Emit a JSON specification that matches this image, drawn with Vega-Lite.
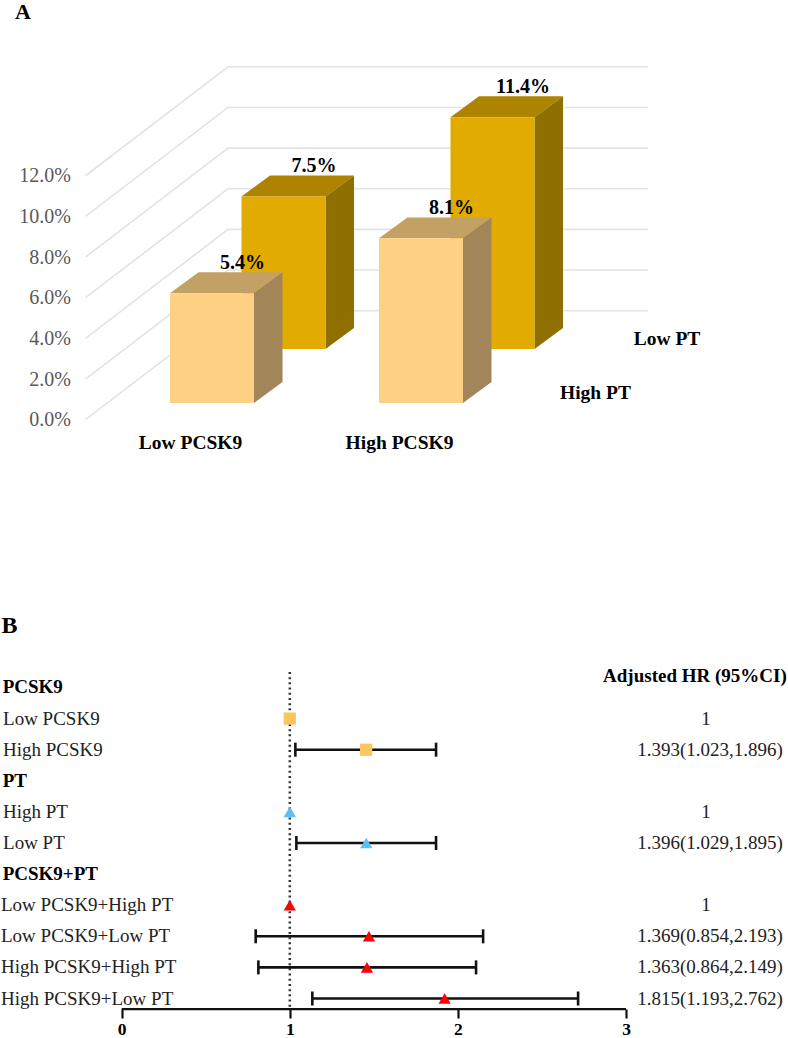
{
"$schema":"https://vega.github.io/schema/vega-lite/v6.json",
"padding":0,"spacing":0,"bounds":"flush",
"config":{"view":{"stroke":null},"text":{"font":"Liberation Serif"}},
"datasets":{
"bars":[
{"group":"Low PCSK9","pt":"Low PT","value":7.5},
{"group":"High PCSK9","pt":"Low PT","value":11.4},
{"group":"Low PCSK9","pt":"High PT","value":5.4},
{"group":"High PCSK9","pt":"High PT","value":8.1}],
"forest":[
{"row":0,"label":"PCSK9","kind":"header","factor":"PCSK9"},
{"row":1,"label":"Low PCSK9","kind":"single","factor":"PCSK9","est":1,"hr":"1"},
{"row":2,"label":"High PCSK9","kind":"single","factor":"PCSK9","lo":1.033,"est":1.454,"hi":1.87,"hr":"1.393(1.023,1.896)"},
{"row":3,"label":"PT","kind":"header","factor":"PT"},
{"row":4,"label":"High PT","kind":"single","factor":"PT","est":1,"hr":"1"},
{"row":5,"label":"Low PT","kind":"single","factor":"PT","lo":1.039,"est":1.455,"hi":1.87,"hr":"1.396(1.029,1.895)"},
{"row":6,"label":"PCSK9+PT","kind":"header","factor":"PCSK9+PT"},
{"row":7,"label":"Low PCSK9+High PT","kind":"combo","factor":"PCSK9+PT","est":1,"hr":"1"},
{"row":8,"label":"Low PCSK9+Low PT","kind":"combo","factor":"PCSK9+PT","lo":0.797,"est":1.471,"hi":2.15,"hr":"1.369(0.854,2.193)"},
{"row":9,"label":"High PCSK9+High PT","kind":"combo","factor":"PCSK9+PT","lo":0.813,"est":1.459,"hi":2.108,"hr":"1.363(0.864,2.149)"},
{"row":10,"label":"High PCSK9+Low PT","kind":"combo","factor":"PCSK9+PT","lo":1.134,"est":1.921,"hi":2.715,"hr":"1.815(1.193,2.762)"}]
},
"vconcat":[
{"width":788,"height":470,
"data":{"name":"bars"},
"transform":[
{"calculate":"(datum.group==='Low PCSK9'?170:379)+(datum.pt==='Low PT'?71.5:0)","as":"left"},
{"calculate":"datum.pt==='Low PT'?3.48:0.82","as":"floor"},
{"calculate":"datum.floor+datum.value","as":"top"}],
"resolve":{"axis":{"x":"independent","y":"independent"}},
"layer":[
{"data":{"values":[{"level":0},{"level":2},{"level":4},{"level":6},{"level":8},{"level":10},{"level":12}]},
"transform":[{"calculate":"[0,1,2]","as":"t"},{"flatten":["t"]},
{"calculate":"datum.t==0?85.5:(datum.t==1?228:648)","as":"xp"},
{"calculate":"datum.level+(datum.t==0?0:5.36)","as":"yp"}],
"mark":{"type":"line","color":"#E3E3E3","strokeWidth":1.6},
"encoding":{
"x":{"field":"xp","type":"quantitative","scale":{"domain":[0,788],"nice":false,"zero":false},"axis":null},
"y":{"field":"yp","type":"quantitative","scale":{"domain":[-2.523,20.595],"nice":false,"zero":false},
"axis":{"orient":"left","offset":-70.5,"values":[0,2,4,6,8,10,12],"labelExpr":"format(datum.value,'.1f')+'%'","domain":false,"ticks":false,"grid":false,"labelPadding":0,"title":null,"labelFont":"Liberation Serif","labelFontSize":20,"labelColor":"#595959","labelOverlap":false,"labelFlush":false}},
"detail":{"field":"level"},"order":{"field":"t"}}},

{"transform":[{"filter":"datum.pt==='Low PT'"},{"calculate":"[0,1,2,3]","as":"t"},{"flatten":["t"]},
{"calculate":"datum.t==0?datum.left:(datum.t==1?datum.left+28.5:(datum.t==2?datum.left+84:datum.left+112.5))","as":"xp"},
{"calculate":"datum.t==3?datum.top+1.03:datum.top","as":"lo"},
{"calculate":"datum.t==0?datum.top:datum.top+1.03","as":"hi"}],
"mark":{"type":"area","orient":"vertical","color":"#AD8300"},
"encoding":{"x":{"field":"xp","type":"quantitative","scale":{"domain":[0,788],"nice":false,"zero":false},"axis":null},
"y":{"field":"lo","type":"quantitative","scale":{"domain":[-2.523,20.595],"nice":false,"zero":false},"axis":null},"y2":{"field":"hi"},"detail":{"field":"group"}}},
{"transform":[{"filter":"datum.pt==='Low PT'"},{"calculate":"[0,1]","as":"t"},{"flatten":["t"]},
{"calculate":"datum.left+84+datum.t*28.5","as":"xp"},
{"calculate":"datum.floor+datum.t*1.03","as":"lo"},
{"calculate":"datum.top+datum.t*1.03","as":"hi"}],
"mark":{"type":"area","orient":"vertical","color":"#8E6F00"},
"encoding":{"x":{"field":"xp","type":"quantitative","scale":{"domain":[0,788],"nice":false,"zero":false},"axis":null},
"y":{"field":"lo","type":"quantitative","scale":{"domain":[-2.523,20.595],"nice":false,"zero":false},"axis":null},"y2":{"field":"hi"},"detail":{"field":"group"}}},
{"transform":[{"filter":"datum.pt==='Low PT'"},{"calculate":"datum.left+84","as":"right"}],
"mark":{"type":"rect","color":"#E2AB00"},
"encoding":{"x":{"field":"left","type":"quantitative","scale":{"domain":[0,788],"nice":false,"zero":false},"axis":null},"x2":{"field":"right"},
"y":{"field":"floor","type":"quantitative","scale":{"domain":[-2.523,20.595],"nice":false,"zero":false},"axis":null},"y2":{"field":"top"}}},

{"transform":[{"filter":"datum.pt==='High PT'"},{"calculate":"[0,1,2,3]","as":"t"},{"flatten":["t"]},
{"calculate":"datum.t==0?datum.left:(datum.t==1?datum.left+28.5:(datum.t==2?datum.left+84:datum.left+112.5))","as":"xp"},
{"calculate":"datum.t==3?datum.top+1.03:datum.top","as":"lo"},
{"calculate":"datum.t==0?datum.top:datum.top+1.03","as":"hi"}],
"mark":{"type":"area","orient":"vertical","color":"#C3A063"},
"encoding":{"x":{"field":"xp","type":"quantitative","scale":{"domain":[0,788],"nice":false,"zero":false},"axis":null},
"y":{"field":"lo","type":"quantitative","scale":{"domain":[-2.523,20.595],"nice":false,"zero":false},"axis":null},"y2":{"field":"hi"},"detail":{"field":"group"}}},
{"transform":[{"filter":"datum.pt==='High PT'"},{"calculate":"[0,1]","as":"t"},{"flatten":["t"]},
{"calculate":"datum.left+84+datum.t*28.5","as":"xp"},
{"calculate":"datum.floor+datum.t*1.03","as":"lo"},
{"calculate":"datum.top+datum.t*1.03","as":"hi"}],
"mark":{"type":"area","orient":"vertical","color":"#A3855A"},
"encoding":{"x":{"field":"xp","type":"quantitative","scale":{"domain":[0,788],"nice":false,"zero":false},"axis":null},
"y":{"field":"lo","type":"quantitative","scale":{"domain":[-2.523,20.595],"nice":false,"zero":false},"axis":null},"y2":{"field":"hi"},"detail":{"field":"group"}}},
{"transform":[{"filter":"datum.pt==='High PT'"},{"calculate":"datum.left+84","as":"right"}],
"mark":{"type":"rect","color":"#FED083"},
"encoding":{"x":{"field":"left","type":"quantitative","scale":{"domain":[0,788],"nice":false,"zero":false},"axis":null},"x2":{"field":"right"},
"y":{"field":"floor","type":"quantitative","scale":{"domain":[-2.523,20.595],"nice":false,"zero":false},"axis":null},"y2":{"field":"top"}}},

{"transform":[{"calculate":"datum.left+72.5","as":"xp"},{"calculate":"datum.top+1.5","as":"yp"},{"calculate":"format(datum.value,'.1f')+'%'","as":"txt"}],
"mark":{"type":"text","font":"Liberation Serif","fontWeight":"bold","fontSize":20,"color":"#000000"},
"encoding":{"x":{"field":"xp","type":"quantitative","scale":{"domain":[0,788],"nice":false,"zero":false},"axis":null},
"y":{"field":"yp","type":"quantitative","scale":{"domain":[-2.523,20.595],"nice":false,"zero":false},"axis":null},"text":{"field":"txt"}}},
{"transform":[{"filter":"datum.pt==='High PT'"},{"calculate":"datum.left+20.5","as":"xp"}],
"mark":{"type":"text","font":"Liberation Serif","fontWeight":"bold","fontSize":19.5,"color":"#000000"},
"encoding":{"x":{"field":"xp","type":"quantitative","scale":{"domain":[0,788],"nice":false,"zero":false},"axis":null},
"y":{"datum":-1.146,"type":"quantitative","scale":{"domain":[-2.523,20.595],"nice":false,"zero":false},"axis":null},"text":{"field":"group"}}},
{"transform":[{"filter":"datum.group==='High PCSK9'"},{"calculate":"datum.left+216.5","as":"xp"},{"calculate":"datum.floor+0.5","as":"yp"}],
"mark":{"type":"text","font":"Liberation Serif","fontWeight":"bold","fontSize":19.5,"color":"#000000"},
"encoding":{"x":{"field":"xp","type":"quantitative","scale":{"domain":[0,788],"nice":false,"zero":false},"axis":null},
"y":{"field":"yp","type":"quantitative","scale":{"domain":[-2.523,20.595],"nice":false,"zero":false},"axis":null},"text":{"field":"pt"}}},
{"data":{"values":[{"panel":"A"}]},
"mark":{"type":"text","font":"Liberation Serif","fontWeight":"bold","fontSize":22,"baseline":"alphabetic","color":"#000000"},
"encoding":{"x":{"datum":23,"type":"quantitative","scale":{"domain":[0,788],"nice":false,"zero":false},"axis":null},
"y":{"datum":19.73,"type":"quantitative","scale":{"domain":[-2.523,20.595],"nice":false,"zero":false},"axis":null},"text":{"field":"panel"}}}
]},

{"width":788,"height":568,
"data":{"name":"forest"},
"resolve":{"axis":{"x":"independent","y":"independent"}},
"layer":[
{"data":{"values":[{"reference":1}]},
"mark":{"type":"rule","color":"#333333","strokeWidth":2.5,"strokeDash":[2,3.2]},
"encoding":{"x":{"field":"reference","type":"quantitative","scale":{"domain":[-0.724,3.9637],"nice":false,"zero":false},
"axis":{"orient":"bottom","offset":-30,"values":[0,1,2,3],"domain":false,"tickSize":9,"tickWidth":2.2,"tickColor":"#111111","grid":false,"title":null,"format":"d","labelPadding":2.5,"labelFont":"Liberation Serif","labelFontWeight":"bold","labelFontSize":17.5,"labelColor":"#000000","labelFlush":false,"labelOverlap":false}},
"y":{"datum":-0.5,"type":"quantitative","scale":{"domain":[11.302,-6.961],"nice":false,"zero":false},"axis":null},"y2":{"datum":10.34}}},
{"data":{"values":[{"start":0,"end":3}]},
"mark":{"type":"rule","color":"#111111","strokeWidth":2.2},
"encoding":{"x":{"field":"start","type":"quantitative","axis":null,"scale":{"domain":[-0.724,3.9637],"nice":false,"zero":false}},"x2":{"field":"end"},
"y":{"datum":10.34,"type":"quantitative","scale":{"domain":[11.302,-6.961],"nice":false,"zero":false},"axis":null}}},
{"transform":[{"filter":"datum.lo!=null"}],
"mark":{"type":"rule","color":"#111111","strokeWidth":2.6},
"encoding":{"x":{"field":"lo","type":"quantitative","axis":null,"scale":{"domain":[-0.724,3.9637],"nice":false,"zero":false}},"x2":{"field":"hi"},
"y":{"field":"row","type":"quantitative","scale":{"domain":[11.302,-6.961],"nice":false,"zero":false},"axis":null}}},
{"transform":[{"filter":"datum.lo!=null"}],
"mark":{"type":"tick","orient":"vertical","color":"#111111","size":14,"thickness":2.6,"opacity":1},
"encoding":{"x":{"field":"lo","type":"quantitative","axis":null,"scale":{"domain":[-0.724,3.9637],"nice":false,"zero":false}},
"y":{"field":"row","type":"quantitative","scale":{"domain":[11.302,-6.961],"nice":false,"zero":false},"axis":null}}},
{"transform":[{"filter":"datum.lo!=null"}],
"mark":{"type":"tick","orient":"vertical","color":"#111111","size":14,"thickness":2.6,"opacity":1},
"encoding":{"x":{"field":"hi","type":"quantitative","axis":null,"scale":{"domain":[-0.724,3.9637],"nice":false,"zero":false}},
"y":{"field":"row","type":"quantitative","scale":{"domain":[11.302,-6.961],"nice":false,"zero":false},"axis":null}}},
{"transform":[{"filter":"datum.est!=null"}],
"mark":{"type":"point","filled":true,"opacity":1,"size":150},
"encoding":{"x":{"field":"est","type":"quantitative","axis":null,"scale":{"domain":[-0.724,3.9637],"nice":false,"zero":false}},
"y":{"field":"row","type":"quantitative","scale":{"domain":[11.302,-6.961],"nice":false,"zero":false},"axis":null},
"shape":{"field":"factor","type":"nominal","legend":null,"scale":{"domain":["PCSK9","PT","PCSK9+PT"],"range":["square","triangle-up","triangle-up"]}},
"color":{"field":"factor","type":"nominal","legend":null,"scale":{"domain":["PCSK9","PT","PCSK9+PT"],"range":["#FBC65F","#5BC0F8","#FF0000"]}}}},
{"transform":[{"filter":"datum.kind==='header'"}],
"mark":{"type":"text","align":"left","font":"Liberation Serif","fontWeight":"bold","fontSize":19,"color":"#000000"},
"encoding":{"x":{"datum":-0.708,"type":"quantitative","axis":null,"scale":{"domain":[-0.724,3.9637],"nice":false,"zero":false}},
"y":{"field":"row","type":"quantitative","scale":{"domain":[11.302,-6.961],"nice":false,"zero":false},"axis":null},"text":{"field":"label"}}},
{"transform":[{"filter":"datum.kind==='single'"}],
"mark":{"type":"text","align":"left","font":"Liberation Serif","fontSize":19,"color":"#222222"},
"encoding":{"x":{"datum":-0.706,"type":"quantitative","axis":null,"scale":{"domain":[-0.724,3.9637],"nice":false,"zero":false}},
"y":{"field":"row","type":"quantitative","scale":{"domain":[11.302,-6.961],"nice":false,"zero":false},"axis":null},"text":{"field":"label"}}},
{"transform":[{"filter":"datum.kind==='combo'"}],
"mark":{"type":"text","align":"left","font":"Liberation Serif","fontSize":19,"color":"#222222"},
"encoding":{"x":{"datum":-0.718,"type":"quantitative","axis":null,"scale":{"domain":[-0.724,3.9637],"nice":false,"zero":false}},
"y":{"field":"row","type":"quantitative","scale":{"domain":[11.302,-6.961],"nice":false,"zero":false},"axis":null},"text":{"field":"label"}}},
{"transform":[{"filter":"datum.hr==='1'"}],
"mark":{"type":"text","font":"Liberation Serif","fontSize":19,"color":"#222222"},
"encoding":{"x":{"datum":3.476,"type":"quantitative","axis":null,"scale":{"domain":[-0.724,3.9637],"nice":false,"zero":false}},
"y":{"field":"row","type":"quantitative","scale":{"domain":[11.302,-6.961],"nice":false,"zero":false},"axis":null},"text":{"field":"hr"}}},
{"transform":[{"filter":"datum.hr!=null&&datum.hr!=='1'"}],
"mark":{"type":"text","font":"Liberation Serif","fontSize":19,"color":"#222222"},
"encoding":{"x":{"datum":3.5,"type":"quantitative","axis":null,"scale":{"domain":[-0.724,3.9637],"nice":false,"zero":false}},
"y":{"field":"row","type":"quantitative","scale":{"domain":[11.302,-6.961],"nice":false,"zero":false},"axis":null},"text":{"field":"hr"}}},
{"data":{"values":[{"heading":"Adjusted HR (95%CI)"}]},
"mark":{"type":"text","font":"Liberation Serif","fontWeight":"bold","fontSize":19,"color":"#000000"},
"encoding":{"x":{"datum":3.41,"type":"quantitative","axis":null,"scale":{"domain":[-0.724,3.9637],"nice":false,"zero":false}},
"y":{"datum":-0.37,"type":"quantitative","scale":{"domain":[11.302,-6.961],"nice":false,"zero":false},"axis":null},"text":{"field":"heading"}}},
{"data":{"values":[{"panel":"B"}]},
"mark":{"type":"text","align":"left","font":"Liberation Serif","fontWeight":"bold","fontSize":24,"color":"#000000"},
"encoding":{"x":{"datum":-0.715,"type":"quantitative","axis":null,"scale":{"domain":[-0.724,3.9637],"nice":false,"zero":false}},
"y":{"datum":-1.98,"type":"quantitative","scale":{"domain":[11.302,-6.961],"nice":false,"zero":false},"axis":null},"text":{"field":"panel"}}}
]}
]
}
